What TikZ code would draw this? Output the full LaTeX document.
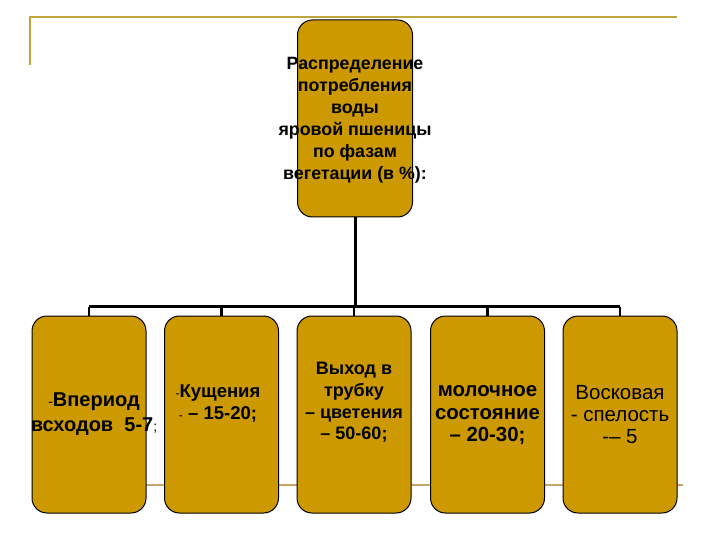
\documentclass[tikz,border=0pt]{standalone}
\usepackage{fontspec}
\setmainfont{Liberation Sans}
\definecolor{boxfill}{RGB}{204,153,0}
\definecolor{goldline}{RGB}{190,165,60}
\definecolor{goldline2}{RGB}{200,165,100}
\tikzset{
  phase/.style={draw=black, line width=1pt, fill=boxfill, rounded corners=15pt,
    minimum width=114pt, minimum height=197pt, inner sep=0pt},
  lbl/.style={align=center, inner sep=0pt, text=black},
  conn/.style={draw=black, line width=2.4pt},
  frame/.style={draw=goldline, line width=2pt},
}
\begin{document}
\begin{tikzpicture}[x=1pt,y=-1pt]
\useasboundingbox (0,0) rectangle (720,540);
% decorative frame lines
\coordinate (fa) at (30,65);
\coordinate (fb) at (30,17);
\coordinate (fc) at (677,17);
\coordinate (fd) at (110,485);
\coordinate (fe) at (683,485);
\draw[frame] (fa) -- (fb) -- (fc);
\draw[draw=goldline2, line width=2pt] (fd) -- (fe);
% boxes
\node[phase, minimum width=115pt] (top) at (355,118.5) {};
\node[phase] (b1) at (89,414.5) {};
\node[phase] (b2) at (221.5,414.5) {};
\node[phase] (b3) at (354,414.5) {};
\node[phase] (b4) at (487.5,414.5) {};
\node[phase] (b5) at (620,414.5) {};
% connectors
\coordinate (busL) at (89,306.5);
\coordinate (busR) at (620,306.5);
\draw[conn, line width=3pt] (top.south) -- (top.south |- busL);
\draw[conn] (busL) -- (busR);
\foreach \i in {1,...,5} {
  \draw[conn] (b\i.north |- busL) -- (b\i.north);
}
% texts
\node[lbl, font=\bfseries\fontsize{17.8}{22}\selectfont] (ttop) at (355,120)
  {Распределение\\потребления\\воды\\яровой пшеницы\\по фазам\\вегетации (в \%):};
\node[lbl, font=\bfseries\fontsize{20}{25}\selectfont] (t1) at (94,414.5)
  {{\mdseries\fontsize{14}{14}\selectfont -}Впериод\\всходов\ \ 5-7{\mdseries\fontsize{14}{14}\selectfont ;}};
\node[lbl, font=\bfseries\fontsize{18.5}{21.5}\selectfont] (t2) at (218,403.5)
  {{\mdseries\fontsize{12}{12}\selectfont -}Кущения\\{\mdseries\fontsize{12}{12}\selectfont -} – 15-20;};
\node[lbl, font=\bfseries\fontsize{18}{21.7}\selectfont] (t3) at (354,402.5)
  {Выход в\\трубку\\– цветения\\– 50-60;};
\node[lbl, font=\bfseries\fontsize{20.4}{22.5}\selectfont] (t4) at (487.5,415.5)
  {молочное\\состояние\\– 20-30;};
\node[lbl, font=\fontsize{20.5}{22}\selectfont] (t5) at (620,415)
  {Восковая\\- спелость\\-– 5};
\end{tikzpicture}
\end{document}
